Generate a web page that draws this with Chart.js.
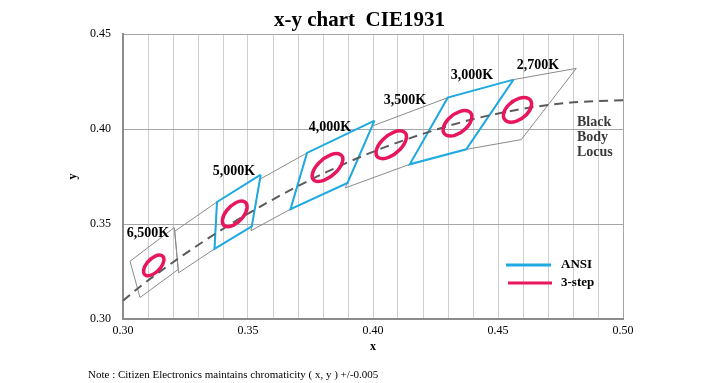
<!DOCTYPE html>
<html>
<head>
<meta charset="utf-8">
<script src="https://cdn.jsdelivr.net/npm/chart.js@4.4.0/dist/chart.umd.min.js"></script>
<style>
  html, body { margin: 0; padding: 0; background: #fff; }
</style>
</head>
<body>
<canvas id="chart" width="719" height="383"></canvas>
<script>
// Black body (Planckian) locus
const locusX = [0.3000, 0.3064, 0.3135, 0.3221, 0.3324, 0.3451, 0.3608, 0.3805, 0.4053, 0.4369, 0.4599, 0.4770, 0.5018]
const locusY = [0.3096, 0.3166, 0.3237, 0.3318, 0.3410, 0.3516, 0.3635, 0.3768, 0.3907, 0.4041, 0.4106, 0.4137, 0.4153]

// ANSI quadrangles, corners [x, y] going round
const quad6500 = [[0.3205, 0.3481], [0.3028, 0.3304], [0.3068, 0.3113], [0.3221, 0.3261]]
const quad5700 = [[0.3376, 0.3616], [0.3207, 0.3462], [0.3222, 0.3243], [0.3366, 0.3369]]
const quad5000 = [[0.3551, 0.3760], [0.3376, 0.3616], [0.3366, 0.3369], [0.3515, 0.3487]]
const quad4500 = [[0.3736, 0.3874], [0.3548, 0.3736], [0.3512, 0.3465], [0.3670, 0.3578]]
const quad4000 = [[0.4006, 0.4044], [0.3736, 0.3874], [0.3670, 0.3578], [0.3898, 0.3716]]
const quad3500 = [[0.4299, 0.4165], [0.3996, 0.4015], [0.3889, 0.3690], [0.4147, 0.3814]]
const quad3000 = [[0.4562, 0.4260], [0.4299, 0.4165], [0.4147, 0.3814], [0.4373, 0.3893]]
const quad2700 = [[0.4813, 0.4319], [0.4562, 0.4260], [0.4373, 0.3893], [0.4593, 0.3944]]

// 3-step ellipses: centre, semi axes, angle (deg)
const stepX = [0.3123, 0.3447, 0.3818, 0.4073, 0.4338, 0.4578]
const stepY = [0.3282, 0.3553, 0.3797, 0.3917, 0.4030, 0.4101]
const stepA = [0.0061, 0.0075, 0.0086, 0.0085, 0.0077, 0.0074]
const stepB = [0.0030, 0.0037, 0.0042, 0.0043, 0.0043, 0.0044]
const stepTheta = [58.57, 59.62, 53.43, 54.00, 53.22, 53.70]

// CCT labels and where they sit (data coords, text centre)
const cctLabels = ['6,500K', '5,000K', '4,000K', '3,500K', '3,000K', '2,700K']
const cctLabelX = [0.3100, 0.3444, 0.3828, 0.4128, 0.4396, 0.4660]
const cctLabelY = [0.3453, 0.3779, 0.4011, 0.4153, 0.4284, 0.4337]
const locusLabel = ['Black', 'Body', 'Locus']

const SERIF = "'Liberation Serif', 'Times New Roman', serif"
const BLUE = '#1fa9e1'
const PINK = '#e8175d'
const GREY = '#8a8a8a'

const toPoints = q => q.concat([q[0]]).map(([x, y]) => ({ x, y }))

const quadSet = (q, color, width) => ({
  data: toPoints(q),
  borderColor: color,
  borderWidth: width,
  pointRadius: 0,
  tension: 0,
  showLine: true,
  fill: false
})

// ellipses drawn through the scales so they follow the axes
const ellipsePlugin = {
  id: 'ellipses',
  afterDatasetsDraw(chart) {
    const { ctx, chartArea, scales: { x, y } } = chart
    const sx = x.getPixelForValue(1) - x.getPixelForValue(0)
    const sy = y.getPixelForValue(0) - y.getPixelForValue(1)
    ctx.save()
    ctx.beginPath()
    ctx.rect(chartArea.left, chartArea.top, chartArea.width, chartArea.height)
    ctx.clip()
    ctx.strokeStyle = PINK
    ctx.lineWidth = 3.5
    stepX.forEach((cx, i) => {
      ctx.save()
      ctx.translate(x.getPixelForValue(cx), y.getPixelForValue(stepY[i]))
      ctx.scale(sx, -sy)
      ctx.rotate(stepTheta[i] * Math.PI / 180)
      ctx.beginPath()
      ctx.ellipse(0, 0, stepA[i], stepB[i], 0, 0, Math.PI * 2)
      ctx.restore()
      ctx.stroke()
    })
    ctx.restore()
  }
}

const textPlugin = {
  id: 'texts',
  afterDraw(chart) {
    const { ctx, chartArea, scales: { x, y } } = chart
    ctx.save()
    ctx.fillStyle = '#000'
    ctx.font = `bold 14px ${SERIF}`
    ctx.textAlign = 'center'
    ctx.textBaseline = 'middle'
    cctLabels.forEach((t, i) => {
      ctx.fillText(t, x.getPixelForValue(cctLabelX[i]), y.getPixelForValue(cctLabelY[i]))
    })

    // Black Body Locus
    ctx.fillStyle = '#3a3a3a'
    ctx.textAlign = 'left'
    const lx = x.getPixelForValue(0.4816)
    const ly = y.getPixelForValue(0.4037)
    locusLabel.forEach((t, i) => ctx.fillText(t, lx, ly + i * 15))

    // legend inside the plot, bottom right
    const legX = chartArea.right - 117
    const legY = chartArea.bottom - 54
    ctx.lineWidth = 3
    ctx.strokeStyle = BLUE
    ctx.beginPath(); ctx.moveTo(legX, legY); ctx.lineTo(legX + 45, legY); ctx.stroke()
    ctx.strokeStyle = PINK
    ctx.beginPath(); ctx.moveTo(legX + 2, legY + 18); ctx.lineTo(legX + 46, legY + 18); ctx.stroke()
    ctx.fillStyle = '#000'
    ctx.font = `bold 13px ${SERIF}`
    ctx.fillText('ANSI', legX + 55, legY)
    ctx.fillText('3-step', legX + 55, legY + 18)

    // note below the chart
    ctx.font = `11px ${SERIF}`
    ctx.fillText('Note : Citizen Electronics maintains chromaticity ( x, y ) +/-0.005', 88, 375)
    ctx.restore()
  }
}

new Chart(document.getElementById('chart'), {
  type: 'scatter',
  data: {
    datasets: [
      {
        data: locusX.map((x, i) => ({ x, y: locusY[i] })),
        borderColor: '#5a5a5a',
        borderWidth: 2,
        borderDash: [9, 6],
        pointRadius: 0,
        showLine: true,
        cubicInterpolationMode: 'monotone',
        fill: false
      },
      quadSet(quad5000, BLUE, 2),
      quadSet(quad4000, BLUE, 2),
      quadSet(quad3000, BLUE, 2),
      quadSet(quad6500, GREY, 1),
      quadSet(quad5700, GREY, 1),
      quadSet(quad4500, GREY, 1),
      quadSet(quad3500, GREY, 1),
      quadSet(quad2700, GREY, 1)
    ]
  },
  options: {
    responsive: false,
    animation: false,
    events: [],
    layout: { padding: { top: 0, right: 0, bottom: 19.2, left: 0 } },
    plugins: {
      legend: { display: false },
      tooltip: { enabled: false },
      title: {
        display: true,
        text: 'x-y chart  CIE1931',
        color: '#000',
        font: { family: SERIF, size: 21, weight: 'bold' },
        padding: { top: 8, bottom: 0.8 }
      }
    },
    scales: {
      x: {
        type: 'linear',
        min: 0.30,
        max: 0.50,
        ticks: {
          stepSize: 0.01,
          autoSkip: false,
          maxRotation: 0,
          padding: 5,
          color: '#000',
          font: { family: SERIF, size: 12 },
          callback: v => (Math.round(v * 100) % 5 === 0 ? v.toFixed(2) : '')
        },
        grid: {
          drawTicks: false,
          color: c => (Math.abs(c.tick.value - 0.5) < 1e-6 ? '#a6a6a6' : '#cfcfcf')
        },
        border: { color: '#8c8c8c', width: 2 },
        title: {
          display: true,
          text: 'x',
          color: '#000',
          font: { family: SERIF, size: 12, weight: 'bold' },
          padding: { top: 0, bottom: 9.6 }
        },
        afterFit: s => { s.height = 44.8 }
      },
      y: {
        type: 'linear',
        min: 0.30,
        max: 0.45,
        ticks: {
          stepSize: 0.05,
          padding: 12,
          color: '#000',
          font: { family: SERIF, size: 12 },
          callback: v => v.toFixed(2)
        },
        grid: { drawTicks: false, color: '#a6a6a6' },
        border: { color: '#8c8c8c', width: 2 },
        title: {
          display: true,
          text: 'y',
          color: '#000',
          font: { family: SERIF, size: 12, weight: 'bold' },
          padding: { top: 65.8, bottom: 0 }
        },
        afterFit: s => { s.width = 123 }
      },
      // empty right-hand axis, only keeps the right margin so the title centres on the page
      yRight: {
        type: 'linear',
        position: 'right',
        min: 0.30,
        max: 0.45,
        grid: { display: false },
        border: { display: false },
        ticks: { display: false },
        afterFit: s => { s.width = 96 }
      }
    }
  },
  plugins: [ellipsePlugin, textPlugin]
})
</script>
</body>
</html>
